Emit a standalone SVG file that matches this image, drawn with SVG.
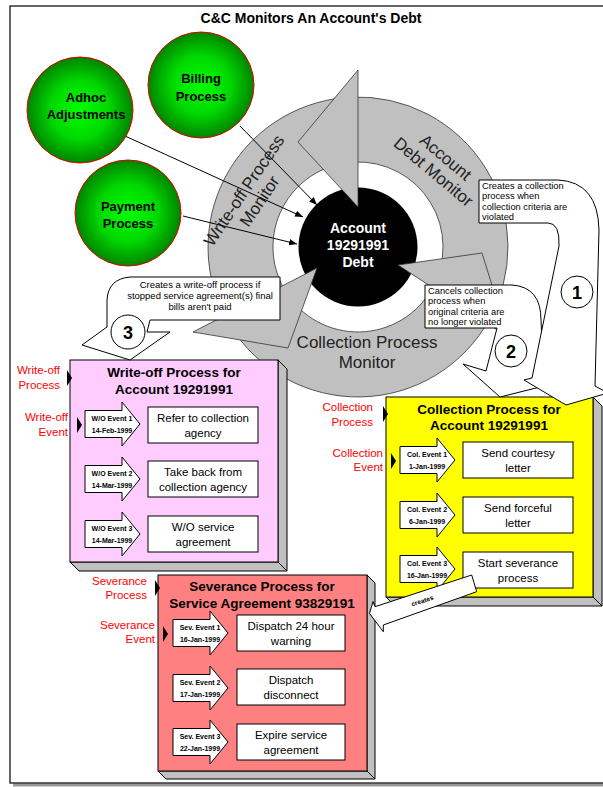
<svg xmlns="http://www.w3.org/2000/svg" width="603" height="787" viewBox="0 0 603 787">
<defs>
<radialGradient id="gg" cx="50%" cy="50%" r="50%">
<stop offset="0" stop-color="#00ff00"/>
<stop offset="0.55" stop-color="#00d800"/>
<stop offset="1" stop-color="#008400"/>
</radialGradient>
<marker id="ah" viewBox="0 0 10 10" refX="10" refY="5" markerWidth="8" markerHeight="8" markerUnits="userSpaceOnUse" orient="auto"><path d="M0,1 L10,5 L0,9 Z" fill="#000"/></marker>
<path id="evt" d="M0,-13.5 H37 V-22 L55,0 L37,22 V13.5 H0 Z"/>
<path id="mk" d="M0,-8 L5,0 L0,8 Z"/>
</defs>
<style>
text{font-family:"Liberation Sans",Arial,sans-serif}
.t{font-size:14px;font-weight:bold;text-anchor:middle}
.g{fill:url(#gg);stroke:#e00000;stroke-width:1}
.gt{font-size:13px;font-weight:bold;text-anchor:middle}
.band{fill:#c0c0c0;stroke:#333;stroke-width:0.8}
.bt{font-size:17px;fill:#222;text-anchor:middle}
.box3d{fill:#c0c0c0;stroke:#000;stroke-width:1}
.pt{font-size:13.5px;font-weight:bold;text-anchor:middle}
.red{font-size:11.5px;fill:#ff0000;text-anchor:end}
.evt{fill:#fff;stroke:#000;stroke-width:1}
.et{font-size:7px;font-weight:bold;text-anchor:middle}
.task{fill:#fff;stroke:#000;stroke-width:1}
.tt{font-size:11.5px;text-anchor:middle}
.co{fill:#fff;stroke:#000;stroke-width:1}
.ct{font-size:9.3px}
.num{fill:#fff;stroke:#000;stroke-width:1}
.nt{font-size:18px;font-weight:bold;text-anchor:middle}
.conn{stroke:#000;stroke-width:1;fill:none;marker-end:url(#ah)}
</style>

<g id="frame">
<path d="M13,785 H603" stroke="#999" stroke-width="3"/>
<rect x="10" y="6" width="600" height="777" fill="#fff" stroke="#000" stroke-width="1.2"/>
<text class="t" x="311" y="23">C&amp;C Monitors An Account's Debt</text>
</g>

<g id="monitor-cycle">
<path class="band" d="M487.9,322 A150,150 0 0 0 350.1,97.2 L353.6,162.1 A85,85 0 0 1 431.6,289.5 Z"/>
<path class="band" d="M344.9,97.6 A150,150 0 0 0 228.1,322 L284.4,289.5 A85,85 0 0 1 350.6,162.3 Z"/>
<path class="band" d="M235.1,333 A150,150 0 0 0 493.9,310.4 L435,282.9 A85,85 0 0 1 288.4,295.8 Z"/>
<circle id="debt-circle" cx="358" cy="247" r="59.5" fill="#000"/>
<path class="band" d="M358,70 L298,142 L358,207 Z"/>
<path class="band" d="M193,332 L288,348 L317,268 Z"/>
<path class="band" d="M398,265 L482,253 L508,337 Z"/>
<text class="bt" transform="translate(440,164) rotate(40)"><tspan x="0" y="-3">Account</tspan><tspan x="0" y="16">Debt Monitor</tspan></text>
<text class="bt" transform="translate(252,196) rotate(-56)"><tspan x="0" y="-4">Write-off Process</tspan><tspan x="0" y="15">Monitor</tspan></text>
<text class="bt" x="367" y="348">Collection Process</text>
<text class="bt" x="367" y="368">Monitor</text>
</g>

<g id="account-debt">
<text class="t" fill="#fff" x="358" y="233">Account</text>
<text class="t" fill="#fff" x="358" y="250">19291991</text>
<text class="t" fill="#fff" x="358" y="267">Debt</text>
</g>

<g id="connectors">
<path class="conn" d="M240,126 L317,205"/>
<path class="conn" d="M125,136 L303,217"/>
<path class="conn" d="M183,216 L297,244"/>
</g>

<g id="adhoc">
<circle class="g" cx="80" cy="110" r="53"/>
<text class="gt" x="86" y="102">Adhoc</text>
<text class="gt" x="86" y="119">Adjustments</text>
</g>
<g id="billing">
<circle class="g" cx="201" cy="85" r="53"/>
<text class="gt" x="201" y="83">Billing</text>
<text class="gt" x="201" y="101">Process</text>
</g>
<g id="payment">
<circle class="g" cx="128" cy="213" r="53"/>
<text class="gt" x="128" y="211">Payment</text>
<text class="gt" x="128" y="228">Process</text>
</g>

<g id="writeoff-process">
<path class="box3d" d="M278,360 L287,369 L287,571 L278,562 Z"/>
<path class="box3d" d="M70,562 L79,571 L287,571 L278,562 Z"/>
<rect x="70" y="360" width="208" height="202" fill="#ffccff" stroke="#000"/>
<text class="pt" x="174" y="377">Write-off Process for</text>
<text class="pt" x="174" y="394">Account 19291991</text>
<text class="red" x="60" y="374">Write-off</text>
<text class="red" x="60" y="389">Process</text>
<use href="#mk" x="67" y="378"/>
<text class="red" x="68" y="421">Write-off</text>
<text class="red" x="68" y="436">Event</text>
<use href="#mk" x="77" y="425"/>
<use href="#evt" class="evt" x="85" y="424"/>
<text class="et" x="112" y="420.5">W/O Event 1</text>
<text class="et" x="112" y="433">14-Feb-1999</text>
<use href="#evt" class="evt" x="85" y="479"/>
<text class="et" x="112" y="475.5">W/O Event 2</text>
<text class="et" x="112" y="488">14-Mar-1999</text>
<use href="#evt" class="evt" x="85" y="534"/>
<text class="et" x="112" y="530.5">W/O Event 3</text>
<text class="et" x="112" y="543">14-Mar-1999</text>
<rect class="task" x="148" y="407" width="110" height="36"/>
<text class="tt" x="203" y="421.5">Refer to collection</text>
<text class="tt" x="203" y="436.5">agency</text>
<rect class="task" x="148" y="461" width="110" height="36"/>
<text class="tt" x="203" y="475.5">Take back from</text>
<text class="tt" x="203" y="490.5">collection agency</text>
<rect class="task" x="148" y="516" width="110" height="36"/>
<text class="tt" x="203" y="530.5">W/O service</text>
<text class="tt" x="203" y="545.5">agreement</text>
</g>

<g id="collection-process">
<path class="box3d" d="M593,397 L602,406 L602,606 L593,597 Z"/>
<path class="box3d" d="M386,597 L395,606 L602,606 L593,597 Z"/>
<rect x="386" y="397" width="207" height="200" fill="#ffff00" stroke="#000"/>
<text class="pt" x="489" y="414">Collection Process for</text>
<text class="pt" x="489" y="430">Account 19291991</text>
<text class="red" x="373" y="411">Collection</text>
<text class="red" x="373" y="426">Process</text>
<use href="#mk" x="383" y="414"/>
<text class="red" x="383" y="457">Collection</text>
<text class="red" x="383" y="471">Event</text>
<use href="#mk" x="391" y="461"/>
<use href="#evt" class="evt" x="400" y="460"/>
<text class="et" x="427" y="456.5">Col. Event 1</text>
<text class="et" x="427" y="469">1-Jan-1999</text>
<use href="#evt" class="evt" x="400" y="515"/>
<text class="et" x="427" y="511.5">Col. Event 2</text>
<text class="et" x="427" y="524">6-Jan-1999</text>
<use href="#evt" class="evt" x="400" y="569"/>
<text class="et" x="427" y="565.5">Col. Event 3</text>
<text class="et" x="427" y="578">16-Jan-1999</text>
<rect class="task" x="463" y="442" width="110" height="36"/>
<text class="tt" x="518" y="456.5">Send courtesy</text>
<text class="tt" x="518" y="471.5">letter</text>
<rect class="task" x="463" y="497" width="110" height="36"/>
<text class="tt" x="518" y="511.5">Send forceful</text>
<text class="tt" x="518" y="526.5">letter</text>
<rect class="task" x="463" y="552" width="110" height="36"/>
<text class="tt" x="518" y="566.5">Start severance</text>
<text class="tt" x="518" y="581.5">process</text>
</g>

<g id="severance-process">
<path class="box3d" d="M367,575 L375,583 L375,779 L367,771 Z"/>
<path class="box3d" d="M158,771 L166,779 L375,779 L367,771 Z"/>
<rect x="158" y="575" width="209" height="196" fill="#ff8080" stroke="#000"/>
<text class="pt" x="262" y="591">Severance Process for</text>
<text class="pt" x="262" y="608">Service Agreement 93829191</text>
<text class="red" x="147" y="585">Severance</text>
<text class="red" x="147" y="599">Process</text>
<use href="#mk" x="155" y="588"/>
<text class="red" x="155" y="629">Severance</text>
<text class="red" x="155" y="643">Event</text>
<use href="#mk" x="163" y="634"/>
<use href="#evt" class="evt" x="173" y="633"/>
<text class="et" x="200" y="629.5">Sev. Event 1</text>
<text class="et" x="200" y="642">16-Jan-1999</text>
<use href="#evt" class="evt" x="173" y="688"/>
<text class="et" x="200" y="684.5">Sev. Event 2</text>
<text class="et" x="200" y="697">17-Jan-1999</text>
<use href="#evt" class="evt" x="173" y="742"/>
<text class="et" x="200" y="738.5">Sev. Event 3</text>
<text class="et" x="200" y="751">22-Jan-1999</text>
<rect class="task" x="237" y="615" width="108" height="36"/>
<text class="tt" x="291" y="629.5">Dispatch 24 hour</text>
<text class="tt" x="291" y="644.5">warning</text>
<rect class="task" x="237" y="669" width="108" height="36"/>
<text class="tt" x="291" y="683.5">Dispatch</text>
<text class="tt" x="291" y="698.5">disconnect</text>
<rect class="task" x="237" y="724" width="108" height="36"/>
<text class="tt" x="291" y="738.5">Expire service</text>
<text class="tt" x="291" y="753.5">agreement</text>
</g>

<g id="callout-2">
<path class="co" d="M425,285 H512 Q541,287 541,320 L544,386 L532,389 L500,397 L463,364 L486,371 L497,328 H425 Z"/>
<text class="ct" x="428" y="293.5">Cancels collection</text>
<text class="ct" x="428" y="304">process when</text>
<text class="ct" x="428" y="314.5">original criteria are</text>
<text class="ct" x="428" y="324.5">no longer violated</text>
<circle class="num" cx="511" cy="351" r="16"/>
<text class="nt" x="511" y="357.5">2</text>
</g>

<g id="callout-1">
<path class="co" d="M479,180 H558 Q598,182 599,230 L595,386 L608,393 L566,405 L524,380 L532,378 L559,246 Q560,223 548,223 H479 Z"/>
<text class="ct" x="482" y="188.5">Creates a collection</text>
<text class="ct" x="482" y="198.5">process when</text>
<text class="ct" x="482" y="209.5">collection criteria are</text>
<text class="ct" x="482" y="219.5">violated</text>
<circle class="num" cx="577" cy="292" r="16"/>
<text class="nt" x="577" y="298.5">1</text>
</g>

<g id="callout-3">
<path class="co" d="M280,277 H130 Q108,279 107,300 L107,327 L82,345 L130,360 L170,332 L147,332 L150,320 H280 Z"/>
<text class="ct" x="200" y="288" text-anchor="middle" style="font-size:9.5px">Creates a write-off process if</text>
<text class="ct" x="200" y="299" text-anchor="middle" style="font-size:9.5px">stopped service agreement(s) final</text>
<text class="ct" x="200" y="310" text-anchor="middle" style="font-size:9.5px">bills aren't paid</text>
<circle class="num" cx="128" cy="332" r="17"/>
<text class="nt" x="128" y="338.5">3</text>
</g>

<g id="creates-arrow">
<path class="co" d="M471.7,575 L375,606.7 L373,601.5 L369.5,613.5 L383.3,631.7 L383.3,625 L476.7,591.7 Z"/>
<text transform="translate(423,603) rotate(-18)" text-anchor="middle" style="font-size:6.5px;font-weight:bold">creates</text>
</g>
</svg>
